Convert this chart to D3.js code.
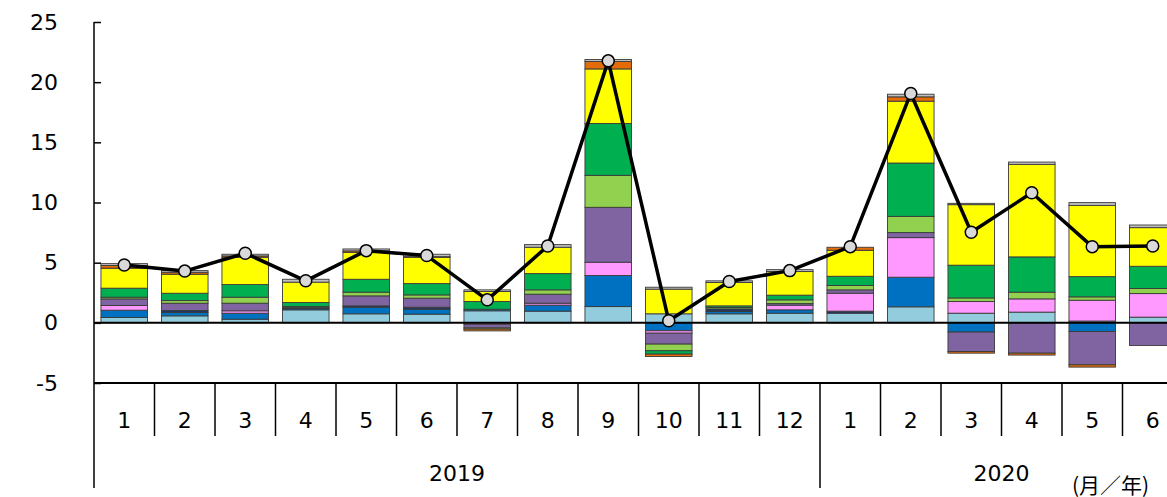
<!DOCTYPE html>
<html>
<head>
<meta charset="utf-8">
<script src="https://cdn.jsdelivr.net/npm/d3@7"></script>
<style>
  html, body { margin: 0; padding: 0; background: #fff; overflow: hidden; }
  svg { display: block; }
  text { font-family: "DejaVu Sans", Verdana, sans-serif; fill: #000; }
</style>
</head>
<body>
<svg id="chart" width="1167" height="497"></svg>
<script>
// ---- data ----
const months = ["1","2","3","4","5","6","7","8","9","10","11","12","1","2","3","4","5","6"];
const years = ["2019", "2020"];
const yearStarts = [0, 12];
const yearEnds = [12, 18];
const yTicks = [-5, 0, 5, 10, 15, 20, 25];

const seriesNames = ["lightBlue","blue","navy","pink","purple","lightGreen","green","yellow","orange","gray"];
const seriesColors = ["#93CDDD","#0070C0","#1F3864","#FF99FF","#8064A2","#92D050","#00B050","#FFFF00","#E36C09","#BFBFBF"];

const lightBlue  = [0.45,0.58,0.30,1.08,0.75,0.72,1.00,0.97,1.35,0.75,0.75,0.80, 0.80,1.33,0.80,0.89,0.15,0.47];
const blue       = [0.60,0.28,0.50,0.10,0.55,0.41,0.13,0.50,2.58,-0.66,0.19,0.28, 0,2.46,-0.77,0,-0.72,0];
const navy       = [0,0.16,0,0.12,0.11,0.17,0,0,0,0,0.22,0, 0.17,0,0,0,0,0];
const pink       = [0.39,0,0.20,0,0,0,-0.12,0.16,1.11,-0.20,0,0.39, 1.49,3.29,0.97,1.10,1.73,1.96];
const purple     = [0.55,0.61,0.63,0,0.83,0.75,-0.30,0.75,4.56,-0.91,0,0.13, 0.28,0.42,-1.61,-2.52,-2.77,-1.88];
const lightGreen = [0.14,0.22,0.50,0.05,0.31,0.27,-0.10,0.36,2.66,-0.55,0.11,0.31, 0.36,1.35,0.30,0.56,0.28,0.42];
const green      = [0.75,0.61,1.05,0.34,1.07,0.94,0.64,1.35,4.31,-0.28,0.14,0.39, 0.77,4.43,2.72,2.93,1.68,1.85];
const yellow     = [1.66,1.58,2.27,1.69,2.24,2.19,0.83,2.19,4.53,2.05,1.94,1.96, 2.16,5.14,5.03,7.69,5.92,3.21];
const orange     = [0.22,0.16,0.11,0,0.12,0.05,-0.15,0,0.62,-0.20,0,0, 0.25,0.36,-0.14,-0.16,-0.19,0];
const gray       = [0.16,0.14,0.14,0.24,0.16,0.20,0.14,0.22,0.16,0.16,0.14,0.16, 0,0.22,0.11,0.19,0.23,0.22];
const total      = [4.80,4.30,5.78,3.49,6.00,5.59,1.91,6.39,21.77,0.17,3.43,4.34, 6.33,19.06,7.53,10.81,6.33,6.39];

const seriesValues = {lightBlue, blue, navy, pink, purple, lightGreen, green, yellow, orange, gray};

(function draw() {
  const table = months.map((m, i) => {
    const row = {idx: i};
    seriesNames.forEach(k => row[k] = seriesValues[k][i]);
    return row;
  });

  const svg = d3.select("#chart");
  const plotLeft = 94, plotTop = 22, plotBottom = 383;
  const step = 60.5;
  const plotRight = plotLeft + step * months.length;

  const x = d3.scaleBand()
    .domain(d3.range(months.length))
    .range([plotLeft, plotRight])
    .paddingInner(0.23)
    .paddingOuter(0.115);

  const y = d3.scaleLinear().domain([-5, 25]).range([plotBottom, plotTop]);

  const stack = d3.stack().keys(seriesNames).order(d3.stackOrderNone).offset(d3.stackOffsetDiverging);
  const stacked = stack(table);

  const gBars = svg.append("g");
  stacked.forEach((layer, li) => {
    gBars.selectAll(null)
      .data(layer.filter(d => Math.abs(d[1] - d[0]) > 1e-9))
      .enter().append("rect")
      .attr("x", d => x(d.data.idx))
      .attr("width", x.bandwidth())
      .attr("y", d => y(Math.max(d[0], d[1])))
      .attr("height", d => Math.abs(y(d[0]) - y(d[1])))
      .attr("fill", seriesColors[li])
      .attr("stroke", "#3a3a3a")
      .attr("stroke-width", 0.9);
  });

  svg.append("line")
    .attr("x1", plotLeft).attr("x2", plotRight)
    .attr("y1", y(0)).attr("y2", y(0))
    .attr("stroke", "#000").attr("stroke-width", 2);

  const yAxis = d3.axisLeft(y).tickValues(yTicks).tickSize(-7).tickPadding(36).tickFormat(d => String(d));
  const gy = svg.append("g").attr("transform", `translate(${plotLeft},0)`).call(yAxis);
  gy.select(".domain").remove();
  gy.selectAll(".tick line").attr("stroke", "#000").attr("stroke-width", 1.5);
  gy.selectAll(".tick text").style("font-size", "22px").attr("font-family", "DejaVu Sans, Verdana, sans-serif").attr("fill", "#000");
  svg.append("line").attr("x1", plotLeft).attr("x2", plotLeft).attr("y1", plotTop).attr("y2", 488)
    .attr("stroke", "#000").attr("stroke-width", 1.5);

  svg.append("line")
    .attr("x1", plotLeft).attr("x2", plotRight)
    .attr("y1", plotBottom).attr("y2", plotBottom)
    .attr("stroke", "#000").attr("stroke-width", 2);

  const gx = svg.append("g");
  d3.range(1, months.length).forEach(i => {
    const bx = plotLeft + i * step;
    const isYear = yearStarts.includes(i);
    gx.append("line")
      .attr("x1", bx).attr("x2", bx)
      .attr("y1", plotBottom).attr("y2", isYear ? 488 : 436)
      .attr("stroke", "#000").attr("stroke-width", 1.5);
  });
  gx.selectAll("text.month")
    .data(months)
    .enter().append("text")
    .attr("class", "month")
    .attr("x", (d, i) => x(i) + x.bandwidth() / 2)
    .attr("y", 428)
    .attr("text-anchor", "middle")
    .style("font-size", "22px")
    .text(d => d);

  gx.selectAll("text.year")
    .data(years)
    .enter().append("text")
    .attr("class", "year")
    .attr("x", (d, i) => plotLeft + (yearStarts[i] + yearEnds[i]) / 2 * step)
    .attr("y", 481)
    .attr("text-anchor", "middle")
    .style("font-size", "22px")
    .text(d => d);

  svg.append("text")
    .attr("x", 1072)
    .attr("y", 493)
    .style("font-size", "21px")
    .style("font-family", "'Noto Sans CJK JP', sans-serif")
    .text("(月／年)");

  const lineGen = d3.line()
    .x((d, i) => x(i) + x.bandwidth() / 2)
    .y(d => y(d));
  svg.append("path")
    .datum(total)
    .attr("d", lineGen)
    .attr("fill", "none")
    .attr("stroke", "#000")
    .attr("stroke-width", 3.5)
    .attr("stroke-linejoin", "round");

  svg.selectAll("circle.pt")
    .data(total)
    .enter().append("circle")
    .attr("class", "pt")
    .attr("cx", (d, i) => x(i) + x.bandwidth() / 2)
    .attr("cy", d => y(d))
    .attr("r", 6)
    .attr("fill", "#D9D9D9")
    .attr("stroke", "#000")
    .attr("stroke-width", 1.5);
})();
</script>
</body>
</html>
